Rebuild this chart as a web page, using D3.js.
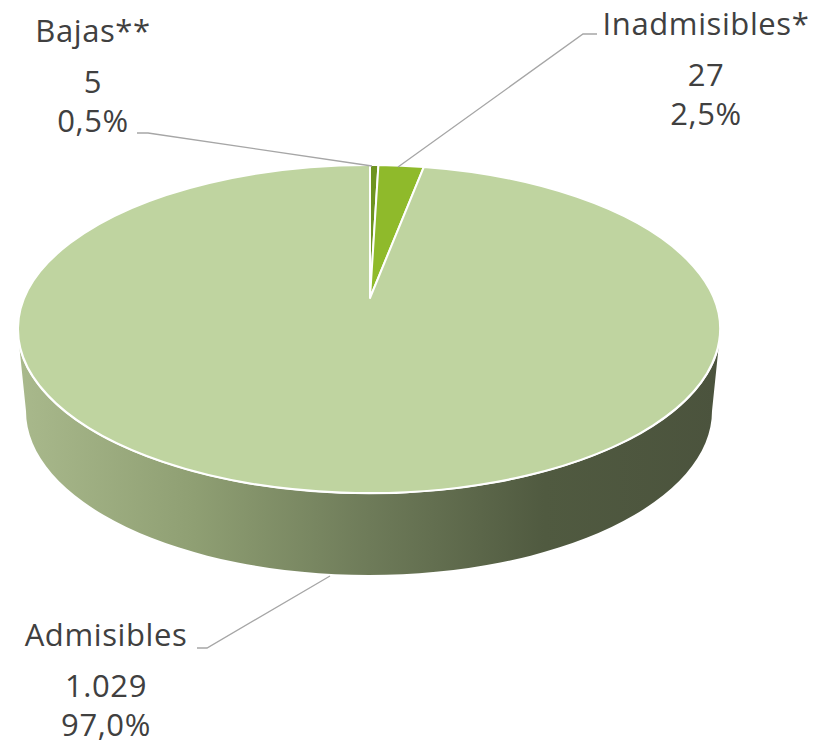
<!DOCTYPE html>
<html>
<head>
<meta charset="utf-8">
<script src="https://cdn.jsdelivr.net/npm/d3@7"></script>
<style>
  html, body { margin: 0; padding: 0; background: #ffffff; }
  svg { display: block; }
  text { font-family: "Open Sans", "Noto Sans", sans-serif; fill: #404040; }
</style>
</head>
<body>
<svg id="chart" width="817" height="748"></svg>
<script>
// ---- data ----
const categories = ["Bajas**", "Inadmisibles*", "Admisibles"];
const values = [5, 27, 1029];
const valueLabels = ["5", "27", "1.029"];
const percentLabels = ["0,5%", "2,5%", "97,0%"];
const colors = ["#6e9420", "#8fba2b", "#bfd4a0"];

const svg = d3.select("#chart");

// geometry of the tilted pie
const cx = 369, cy = 329, rx = 351, ry = 164;   // top ellipse
const ax = 370, ay = 298;                        // apex of slices (perspective)
const depth = 82, rx2 = 343;                     // side

const pie = d3.pie().sort(null).startAngle(0).endAngle(2 * Math.PI).value(d => d);
const arcs = pie(values);

// point on the rim reached from the apex in the (foreshortened) direction of angle t
function rim(t) {
  const dx = Math.sin(t), dy = -Math.cos(t) * ry / rx;
  const px = (ax - cx) / rx, py = (ay - cy) / ry;
  const qx = dx / rx, qy = dy / ry;
  const A = qx * qx + qy * qy, B = 2 * (px * qx + py * qy), C = px * px + py * py - 1;
  const s = (-B + Math.sqrt(B * B - 4 * A * C)) / (2 * A);
  return [ax + s * dx, ay + s * dy];
}

// side gradient
const defs = svg.append("defs");
const grad = defs.append("linearGradient").attr("id", "sideGrad")
  .attr("gradientUnits", "userSpaceOnUse")
  .attr("x1", cx - rx).attr("x2", cx + rx).attr("y1", 0).attr("y2", 0);
[[0, "#a9b98c"], [0.25, "#8f9f73"], [0.5, "#6e7b59"], [0.75, "#505a40"], [1, "#4b533d"]]
  .forEach(([o, c]) => grad.append("stop").attr("offset", o).attr("stop-color", c));

// side (front wall)
svg.append("path")
  .attr("d", `M${cx - rx},${cy} L${cx - rx + 2},${cy + 24} L${cx - rx2},${cy + depth}
              A${rx2},${ry} 0 0 0 ${cx + rx2},${cy + depth}
              L${cx + rx - 2},${cy + 24} L${cx + rx},${cy}
              A${rx},${ry} 0 0 1 ${cx - rx},${cy} Z`)
  .attr("fill", "url(#sideGrad)");

// top ellipse outline
svg.append("ellipse").attr("cx", cx).attr("cy", cy).attr("rx", rx).attr("ry", ry)
  .attr("fill", colors[2]).attr("stroke", "#ffffff").attr("stroke-width", 2.5);

// slices
svg.append("g").selectAll("path").data(arcs).join("path")
  .attr("d", d => {
    const [x0, y0] = rim(d.startAngle), [x1, y1] = rim(d.endAngle);
    const large = (d.endAngle - d.startAngle) > Math.PI ? 1 : 0;
    return `M${ax},${ay} L${x0},${y0} A${rx},${ry} 0 ${large} 1 ${x1},${y1} Z`;
  })
  .attr("fill", (d, i) => colors[i])
  .attr("stroke", "#ffffff").attr("stroke-width", 2).attr("stroke-linejoin", "round");

// leader lines
const leaders = [
  [[372, 166], [148, 133], [137, 133]],
  [[398, 167], [583, 34], [597, 34]],
  [[330, 576], [207, 648], [197, 648]]
];
svg.append("g").selectAll("polyline").data(leaders).join("polyline")
  .attr("points", d => d.map(p => p.join(",")).join(" "))
  .attr("fill", "none").attr("stroke", "#a6a6a6").attr("stroke-width", 1.3);

// labels
const labelPos = [
  { x: 93, y: 42 },
  { x: 706, y: 35 },
  { x: 106, y: 646 }
];
const lg = svg.append("g").attr("font-size", 31).attr("letter-spacing", 0.6);
categories.forEach((c, i) => {
  const p = labelPos[i];
  const t = lg.append("text").attr("text-anchor", "middle").attr("x", p.x).attr("y", p.y);
  t.append("tspan").attr("x", p.x).attr("dy", 0).text(c);
  t.append("tspan").attr("x", p.x).attr("dy", 51).text(valueLabels[i]);
  t.append("tspan").attr("x", p.x).attr("dy", 39).text(percentLabels[i]);
});
</script>
</body>
</html>
